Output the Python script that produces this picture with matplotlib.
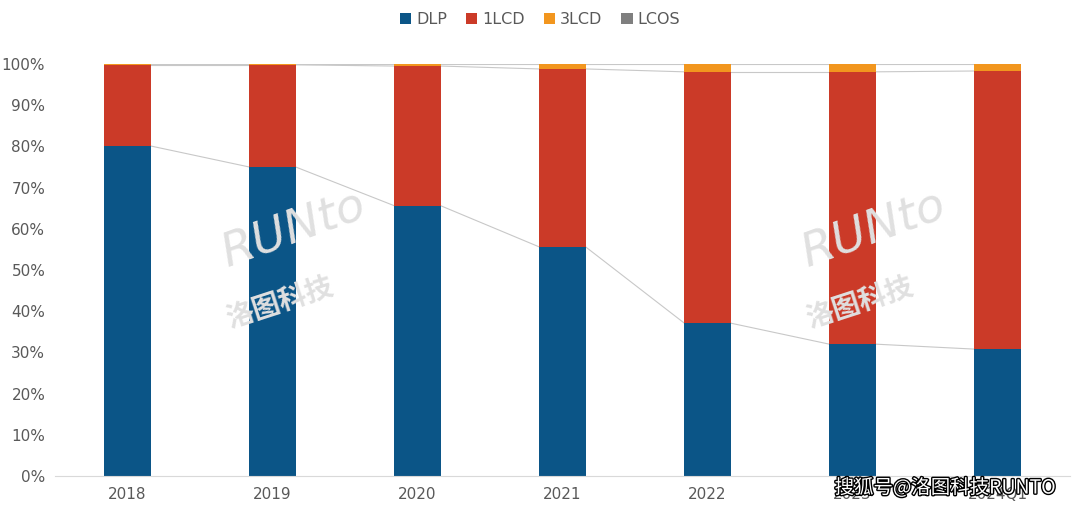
import matplotlib.pyplot as plt
import matplotlib.patheffects as pe
import numpy as np

plt.rcParams['font.family'] = ['DejaVu Sans', 'Noto Sans CJK SC']

# 数据（百分比）
years = ['2018', '2019', '2020', '2021', '2022', '2023', '2024Q1']
dlp = [80.1, 75.0, 65.6, 55.6, 37.1, 32.0, 30.8]
lcd1 = [19.7, 24.8, 33.9, 43.2, 61.0, 66.1, 67.5]
lcd3 = [0.2, 0.2, 0.5, 1.2, 1.9, 1.9, 1.7]
lcos = [0.0, 0.0, 0.0, 0.0, 0.0, 0.0, 0.0]

series = [('DLP', dlp, '#0B5587'), ('1LCD', lcd1, '#CB3A28'),
          ('3LCD', lcd3, '#F2961E'), ('LCOS', lcos, '#7F7F7F')]

fig = plt.figure(figsize=(10.8, 5.11), dpi=100)
ax = fig.add_axes([55 / 1080, 35 / 511, 1015 / 1080, 412 / 511])

x = np.arange(len(years))
w = 0.32
bottom = np.zeros(len(years))
for name, vals, color in series:
    vals = np.array(vals) / 100
    ax.bar(x, vals, w, bottom=bottom, color=color, label=name, zorder=2)
    top = bottom + vals
    # 系列线
    if name != 'LCOS':
        for i in range(len(years) - 1):
            ax.plot([x[i] + w / 2, x[i + 1] - w / 2], [top[i], top[i + 1]],
                    color='#C8C8C8', lw=0.8, zorder=1)
    bottom = top

ax.set_xlim(-0.5, len(years) - 0.5)
ax.set_ylim(0, 1.0)
ax.set_yticks(np.arange(0, 1.01, 0.1))
ax.set_yticklabels([f'{int(v)}%' for v in np.arange(0, 101, 10)])
ax.set_xticks(x)
ax.set_xticklabels(years)
ax.tick_params(axis='both', length=0, labelsize=11, colors='#595959')
ax.tick_params(axis='y', pad=7)
ax.tick_params(axis='x', pad=8)
for s in ['top', 'right', 'left']:
    ax.spines[s].set_visible(False)
ax.spines['bottom'].set_color('#D9D9D9')

fig.legend(loc='upper center', bbox_to_anchor=(0.5, 1.005), ncol=4, frameon=False,
           fontsize=11.5, handlelength=0.7, handleheight=0.7, handletextpad=0.3,
           columnspacing=1.2, labelcolor='#595959')

# 水印
for cx in [1.0, 5.0]:
    ax.text(cx + 0.15, 0.6, 'RUNto', fontsize=34, style='italic', color='#E0E0E0',
            rotation=20, ha='center', va='center', zorder=3)
    ax.text(cx + 0.05, 0.42, '洛图科技', fontsize=20, color='#E0E0E0', weight='bold',
            family=['Noto Sans CJK SC'], rotation=18, ha='center', va='center',
            zorder=3)

fig.text(0.978, 0.045, '搜狐号@洛图科技RUNTO', fontsize=14, color='white',
         family=['Noto Sans CJK SC'], ha='right', va='center',
         path_effects=[pe.withStroke(linewidth=2, foreground='black')])

fig.savefig('out.png', dpi=100)
